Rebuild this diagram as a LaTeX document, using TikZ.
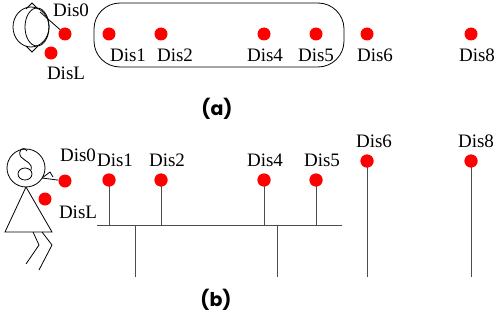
\documentclass[tikz,border=0pt]{standalone}
\usepackage{fontspec}
\setmainfont{Liberation Serif}
\newfontfamily\capfont{Poppins}
\begin{document}
\begin{tikzpicture}[x=1pt,y=-1pt,
  dot/.style={circle,fill=red,minimum size=13pt,inner sep=0pt},
  lbl/.style={inner sep=0pt,font=\fontsize{19}{19}\selectfont},
  panelcap/.style={inner sep=0pt,font=\capfont\bfseries\fontsize{19}{19}\selectfont},
  figline/.style={line width=0.8pt,black},
  stem/.style={line width=1pt,black!70}]
\useasboundingbox (0,0) rectangle (497,321);

% ---------- panel (a) ----------
\draw[figline,rounded corners=26pt] (94,3) rectangle (344,67);

% viewer seen from above
\draw[figline] (31,27) ellipse[x radius=18,y radius=20];
\draw[figline] (37,27) ellipse[x radius=12,y radius=19];
\draw[figline] (26,9) -- (32,3) -- (38,9);
\draw[figline] (26,46) -- (32,52) -- (38,46);

\node[dot] (a0) at (65,34) {};
\node[dot] (aL) at (51,53) {};
\node[dot] (a1) at (109,34) {};
\node[dot] (a2) at (161,34) {};
\node[dot] (a4) at (264,34) {};
\node[dot] (a5) at (316,34) {};
\node[dot] (a6) at (367,34) {};
\node[dot] (a8) at (471,34) {};
\coordinate (aeye) at (40,12);
\draw[figline] (aeye) -- (a0);

\node[lbl] (ta0) at (71,10) {Dis0};
\node[lbl] (taL) at (66,73) {DisL};
\node[lbl] (ta1) at (128,55) {Dis1};
\node[lbl] (ta2) at (175,55) {Dis2};
\node[lbl] (ta4) at (265,55) {Dis4};
\node[lbl] (ta5) at (316,55) {Dis5};
\node[lbl] (ta6) at (375,55) {Dis6};
\node[lbl] (ta8) at (477,55) {Dis8};
\node[panelcap] (capa) at (217,109) {(a)};

% ---------- panel (b) ----------
% standing viewer
\draw[figline] (26,168) circle[radius=19];
\draw[figline] (25,174) ellipse[x radius=7,y radius=6];
\draw[figline] (27,151) .. controls (23,145) and (17,151) .. (21,157)
  .. controls (26,162) and (33,163) .. (31,170);
\draw[figline] (26,187) -- (5,232) -- (52,232) -- cycle;
\draw[figline] (33,232) -- (39,245) -- (26,264);
\draw[figline] (42,232) -- (52,245) -- (39,270);
\draw[figline] (42,178) -- (50,172) -- (53,177);

\node[dot] (b0) at (65,181) {};
\node[dot] (bL) at (45,199) {};
\node[dot] (b1) at (109,180) {};
\node[dot] (b2) at (161,180) {};
\node[dot] (b4) at (264,180) {};
\node[dot] (b5) at (316,180) {};
\node[dot] (b6) at (367,161) {};
\node[dot] (b8) at (471,161) {};
\coordinate (bmouth) at (42,178);
\draw[figline] (bmouth) -- (b0);

% supporting structure
\coordinate (busL) at (97,225);
\coordinate (busR) at (342,225);
\coordinate (leg1) at (135,225);
\coordinate (leg2) at (277,225);
\coordinate (foot1) at (135,277);
\coordinate (foot2) at (277,277);
\coordinate (foot6) at (367,277);
\coordinate (foot8) at (471,277);
\draw[stem] (busL) -- (busR);
\draw[stem] (b1.center) -- (b1.center |- busL);
\draw[stem] (b2.center) -- (b2.center |- busL);
\draw[stem] (b4.center) -- (b4.center |- busL);
\draw[stem] (b5.center) -- (b5.center |- busL);
\draw[stem] (leg1) -- (foot1);
\draw[stem] (leg2) -- (foot2);
\draw[stem] (b6.center) -- (foot6);
\draw[stem] (b8.center) -- (foot8);
\foreach \n in {b1,b2,b4,b5,b6,b8} \node[dot] at (\n) {};

\node[lbl] (tb0) at (78,155) {Dis0};
\node[lbl] (tbL) at (78,212) {DisL};
\node[lbl] (tb1) at (115,160) {Dis1};
\node[lbl] (tb2) at (167,160) {Dis2};
\node[lbl] (tb4) at (265,160) {Dis4};
\node[lbl] (tb5) at (322,160) {Dis5};
\node[lbl] (tb6) at (374,141) {Dis6};
\node[lbl] (tb8) at (476,141) {Dis8};
\node[panelcap] (capb) at (216,300) {(b)};
\end{tikzpicture}
\end{document}
